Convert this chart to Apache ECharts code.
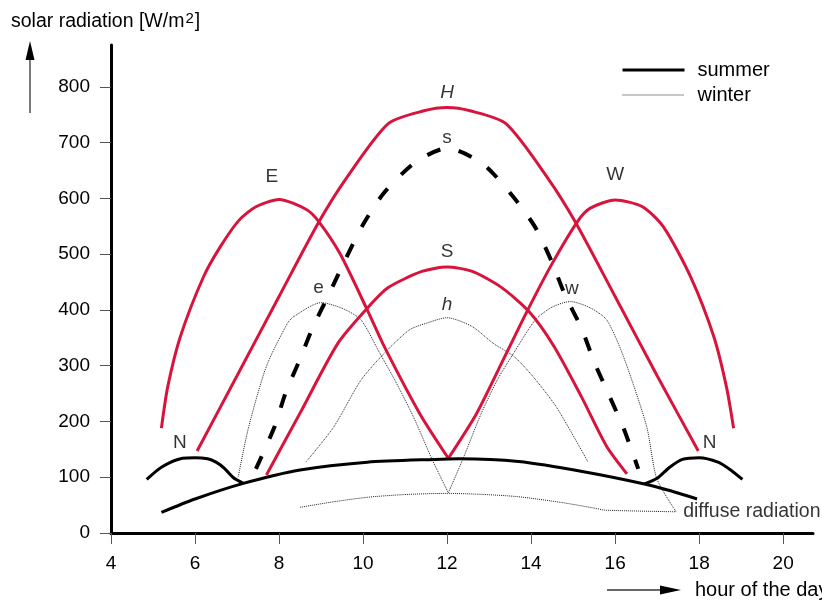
<!DOCTYPE html>
<html>
<head>
<meta charset="utf-8">
<script src="https://cdn.jsdelivr.net/npm/echarts@6/dist/echarts.min.js"></script>
<style>
html, body { margin: 0; padding: 0; background: #fff; }
#chart { width: 822px; height: 600px; }
</style>
</head>
<body>
<div id="chart"></div>
<script>
// axis ticks
const hourTicks = [4, 6, 8, 10, 12, 14, 16, 18, 20];
const radTicks = [0, 100, 200, 300, 400, 500, 600, 700, 800];

// summer facades (red) - [hour, W/m2]
const east = [[5.2, 188], [5.35, 262], [5.65, 352], [6.2, 459], [6.6, 513], [7.05, 561], [7.45, 585], [8, 598], [8.65, 580], [8.95, 558], [9.45, 501], [10.1, 400], [10.5, 335], [11.35, 214], [12.03, 134]];
const west = [[12.03, 134], [12.7, 214], [13.3, 305], [13.9, 397], [14.5, 483], [15.1, 558], [15.4, 582], [16, 597], [16.65, 585], [17.15, 549], [17.8, 459], [18.35, 352], [18.65, 262], [18.82, 188]];
const horizontal = [[6.05, 147], [7, 282], [8, 424], [8.95, 558], [9.6, 636], [10.6, 734], [11.45, 757], [12, 763], [12.55, 757], [13.4, 734], [14.4, 636], [15.05, 558], [16, 424], [17, 282], [17.98, 147]];
const south = [[7.7, 104], [8.5, 215], [9.4, 340], [10.1, 403], [10.6, 440], [11.4, 469], [12, 477], [12.6, 469], [13.3, 440], [13.95, 397], [14.55, 334], [15.2, 244], [15.8, 155], [16.28, 106]];

// summer north + diffuse (thick black)
const northAm = [[4.85, 96], [5.2, 118], [5.7, 134], [6, 135], [6.3, 133], [6.5, 127], [6.7, 116], [6.9, 100], [7.15, 89]];
const northPm = [[16.7, 88], [17, 98], [17.3, 118], [17.6, 132], [18, 135], [18.45, 127], [18.75, 113], [19.03, 96]];
const diffuseSummer = [[5.2, 37], [6, 61], [7.15, 89], [8.5, 113], [10.1, 127], [11.7, 132], [12.3, 133], [13.7, 128], [15.25, 110], [16.7, 88], [17.25, 77], [17.95, 61]];

// south winter (thick dashed)
const southWinter = [[7.45, 115], [7.9, 192], [8.15, 250], [8.5, 312], [8.8, 368], [9.2, 430], [9.57, 489], [10, 553], [10.5, 610], [11.25, 665], [12, 690], [12.85, 662], [13.55, 605], [14.1, 548], [14.5, 485], [14.8, 428], [15.2, 367], [15.5, 307], [15.85, 248], [16.2, 188], [16.55, 115]];

// winter (thin dotted)
const eastWinter = [[7.03, 101], [7.27, 188], [7.7, 299], [8.2, 376], [8.35, 388], [9, 413], [9.5, 403], [9.95, 382], [10.4, 322], [10.75, 275], [11.2, 208], [11.65, 131], [12.03, 72]];
const westWinter = [[12.03, 72], [12.4, 137], [12.8, 212], [13.2, 275], [13.58, 322], [14.1, 382], [14.5, 405], [14.93, 415], [15.4, 404], [15.8, 382], [16.2, 316], [16.75, 191], [16.99, 98], [17.45, 38]];
const horizWinter = [[8.65, 128], [9.3, 190], [9.95, 274], [10.5, 322], [11.1, 364], [11.5, 376], [12, 386], [12.6, 370], [13.1, 340], [13.6, 316], [14.05, 280], [14.6, 226], [15.35, 128]];
const diffuseWinter = [[8.5, 46], [9.3, 56], [10.1, 64], [11, 69], [12, 71], [12.9, 69], [13.7, 65], [14.7, 55], [15.55, 44], [15.75, 41], [17.45, 38]];

// curve labels [hour, W/m2, text]
const curveLabels = [[5.64, 162, 'N'], [18.25, 162, 'N'], [7.83, 638, 'E'], [16, 643, 'W'], [12, 789, 'H'], [12, 709, 's'], [12, 504, 'S'], [12, 409, 'h'], [8.94, 440, 'e'], [14.97, 438, 'w']];
const diffuseLabel = [17.62, 38, 'diffuse radiation'];

const FONT = '"Liberation Sans", Arial, Helvetica, sans-serif';
const RED = '#d8143c';

const chart = echarts.init(document.getElementById('chart'));

function curve(name, data, lineStyle, z) {
  return {
    name: name,
    type: 'line',
    data: data,
    symbol: 'none',
    smooth: 0.25,
    silent: true,
    z: z,
    itemStyle: { color: lineStyle.color },
    lineStyle: lineStyle
  };
}

const thin = { color: '#222', width: 1, type: [1, 1] };
const thick = { color: '#000', width: 3 };
const red = { color: RED, width: 3 };

const labelData = curveLabels.map(function (l) {
  return {
    value: [l[0], l[1]],
    label: {
      formatter: l[2],
      fontStyle: (l[2] === 'H' || l[2] === 'h') ? 'italic' : 'normal'
    }
  };
});
labelData.push({
  value: [diffuseLabel[0], diffuseLabel[1]],
  label: { formatter: diffuseLabel[2], align: 'left', fontSize: 19.5 }
});

const option = {
  animation: false,
  backgroundColor: '#fff',
  textStyle: { fontFamily: FONT },
  grid: { left: 111, right: 9, top: 45, bottom: 67, containLabel: false },
  legend: {
    data: ['summer', 'winter'],
    orient: 'vertical',
    left: 616,
    top: 55,
    itemWidth: 62,
    itemHeight: 14,
    itemGap: 5,
    selectedMode: false,
    itemStyle: { opacity: 0 },
    lineStyle: { width: 'inherit' },
    textStyle: { fontSize: 20, color: '#000', fontFamily: FONT, padding: [0, 0, 0, 8] }
  },
  xAxis: {
    type: 'value',
    min: 4,
    max: 20.71,
    axisLine: { lineStyle: { color: '#000', width: 3 } },
    axisTick: { customValues: hourTicks, length: 11, lineStyle: { color: '#555', width: 1 } },
    axisLabel: { customValues: hourTicks, margin: 21, fontSize: 19, color: '#000', fontFamily: FONT },
    splitLine: { show: false }
  },
  yAxis: {
    type: 'value',
    min: 0,
    max: 875,
    axisLine: { show: true, lineStyle: { color: '#000', width: 3 } },
    axisTick: { show: true, customValues: radTicks, length: 11, lineStyle: { color: '#555', width: 1 } },
    axisLabel: { customValues: radTicks, margin: 21, fontSize: 19, color: '#000', fontFamily: FONT },
    splitLine: { show: false }
  },
  graphic: [
    {
      type: 'text', x: 11, y: 22,
      style: {
        text: 'solar radiation [W/m{sup|2}]',
        fontSize: 19.5, lineHeight: 22, fontFamily: FONT, fill: '#000', verticalAlign: 'middle',
        rich: { sup: { fontSize: 15, lineHeight: 15, fontFamily: FONT, verticalAlign: 'top', padding: [0, 1, 0, 1] } }
      }
    },
    { type: 'line', shape: { x1: 30, y1: 113, x2: 30, y2: 58 }, style: { stroke: '#333', lineWidth: 1.3 } },
    { type: 'polygon', shape: { points: [[30, 41], [25.5, 60], [34.5, 60]] }, style: { fill: '#000' } },
    { type: 'line', shape: { x1: 607, y1: 590, x2: 662, y2: 590 }, style: { stroke: '#333', lineWidth: 1.3 } },
    { type: 'polygon', shape: { points: [[681, 590], [660, 585.5], [660, 594.5]] }, style: { fill: '#000' } },
    {
      type: 'text', x: 695, y: 590,
      style: { text: 'hour of the day', fontSize: 20, fontFamily: FONT, fill: '#000', verticalAlign: 'middle' }
    }
  ],
  series: [
    curve('winter', diffuseWinter, thin, 2),
    curve('e', eastWinter, thin, 2),
    curve('w', westWinter, thin, 2),
    curve('h', horizWinter, thin, 2),
    curve('E', east, red, 3),
    curve('W', west, red, 3),
    curve('H', horizontal, red, 3),
    curve('S', south, red, 3),
    curve('summer', diffuseSummer, thick, 4),
    curve('N am', northAm, thick, 4),
    curve('N pm', northPm, thick, 4),
    curve('s', southWinter, { color: '#000', width: 4, type: [14, 19] }, 4),
    {
      name: 'labels',
      type: 'scatter',
      symbolSize: 0,
      silent: true,
      z: 5,
      data: labelData,
      label: { show: true, position: 'inside', fontSize: 19, color: '#000', fontFamily: FONT }
    }
  ]
};

chart.setOption(option);
</script>
</body>
</html>
